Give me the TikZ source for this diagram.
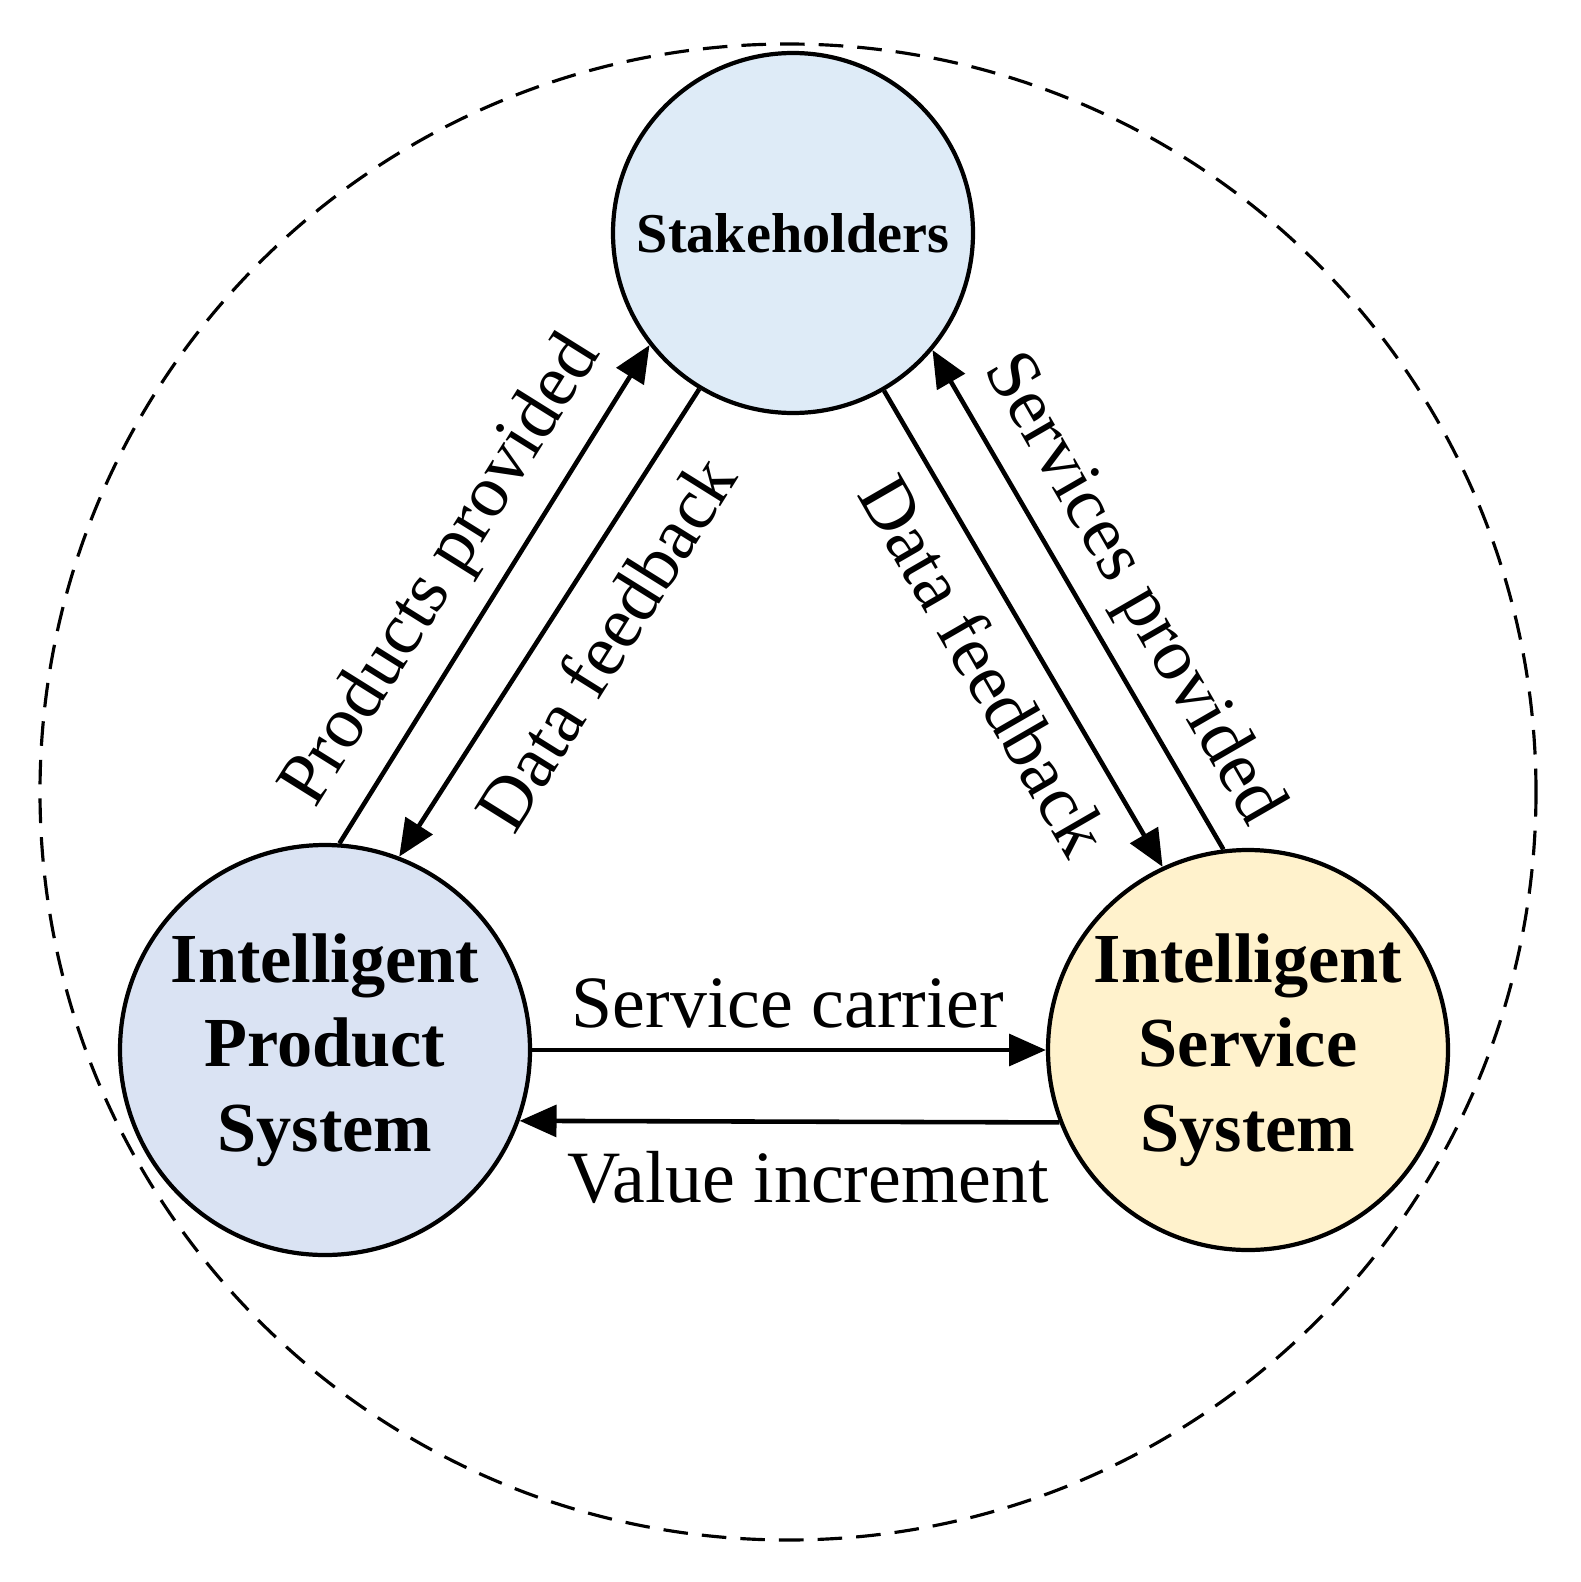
\documentclass[tikz,border=0pt]{standalone}
\usepackage{fontspec}
\setmainfont{Liberation Serif}
\usetikzlibrary{arrows.meta}
\definecolor{cs}{HTML}{DEEBF7}
\definecolor{cp}{HTML}{DAE3F3}
\definecolor{ci}{HTML}{FFF2CC}
\begin{document}
\begin{tikzpicture}[x=0.02cm,y=-0.02cm,
  sys/.style={circle,draw,line width=2.4pt,inner sep=0pt,align=center,font=\fontsize{40}{48}\selectfont\bfseries},
  arr/.style={line width=2.6pt,-{Triangle[length=21pt,width=18pt]}},
  lab/.style={font=\fontsize{42}{46}\selectfont}]
\useasboundingbox (0,0) rectangle (1580,1582);
\draw[line width=1.8pt,dash pattern=on 14pt off 8pt] (788,792) circle[radius=748];
\node[sys,fill=cs,minimum size=360*0.02cm,font=\fontsize{32}{38}\selectfont\bfseries] (s) at (793,233) {Stakeholders};
\node[sys,fill=cp,minimum size=410*0.02cm] (p) at (325,1050) {Intelligent\\Product\\System};
\node[sys,fill=ci,minimum size=400*0.02cm] (i) at (1248,1050) {Intelligent\\Service\\System};
\draw[arr] (p.86) -- (s.218.8);
\draw[arr] (s.239) -- (p.69);
\draw[arr] (s.300) -- (i.115);
\draw[arr] (i.97) -- (s.320.5);
\draw[arr] (p.0) -- (i.180);
\draw[arr] (i.201) -- (p.-20.6);
\node[lab,rotate=58] (l1) at (443,572) {Products provided};
\node[lab,rotate=58] (l2) at (605,643) {Data feedback};
\node[lab,rotate=-60] (l3) at (985,665) {Data feedback};
\node[lab,rotate=-60] (l4) at (1132,590) {Services provided};
\node[lab] (l5) at (788,1003) {Service carrier};
\node[lab] (l6) at (808,1177) {Value increment};
\end{tikzpicture}
\end{document}
